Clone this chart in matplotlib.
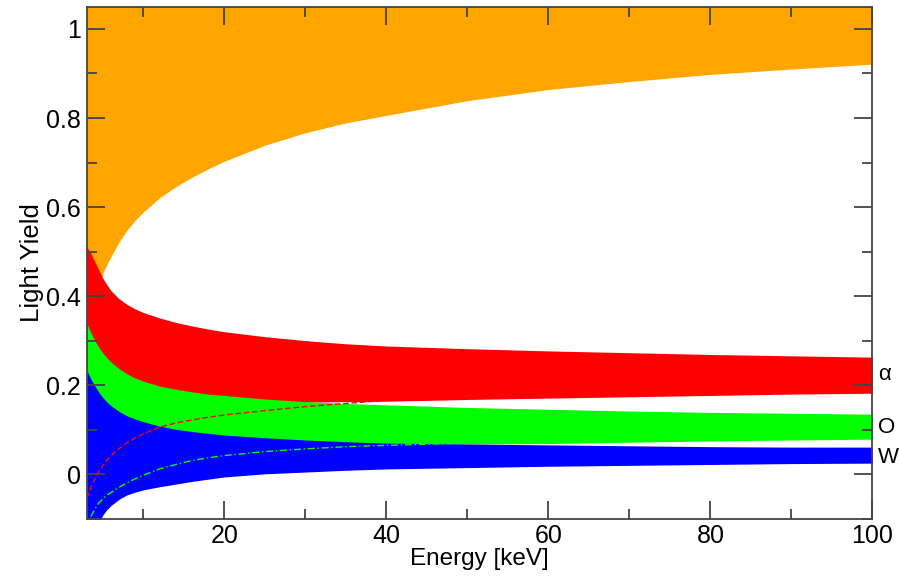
import numpy as np
import matplotlib
matplotlib.use('Agg')
import matplotlib.pyplot as plt
from matplotlib.ticker import MultipleLocator
import matplotlib.transforms as mtransforms

plt.rcParams['font.family'] = ['Liberation Sans', 'DejaVu Sans']

# ── band edges (light yield) on a common energy grid ──
energy = [3, 3.5, 4, 4.5, 5, 5.5, 6, 7, 8, 9, 10, 12, 14, 16, 18, 20,
          25, 30, 35, 40, 50, 60, 70, 80, 90, 100]

e_low = [0.30, 0.35, 0.39, 0.425, 0.452, 0.472, 0.489, 0.522, 0.549, 0.571, 0.589, 0.621, 0.646,
         0.667, 0.686, 0.703, 0.739, 0.767, 0.789, 0.806, 0.839, 0.864, 0.882, 0.898, 0.910, 0.921]

alpha_up = [0.511, 0.496, 0.477, 0.458, 0.440, 0.425, 0.412, 0.394, 0.381, 0.371, 0.363, 0.351, 0.341,
            0.333, 0.326, 0.320, 0.309, 0.300, 0.293, 0.288, 0.282, 0.277, 0.273, 0.269, 0.266, 0.263]
alpha_low = [0.25, 0.24, 0.23, 0.22, 0.21, 0.205, 0.20, 0.19, 0.183, 0.178, 0.175, 0.170, 0.167,
             0.165, 0.164, 0.163, 0.162, 0.162, 0.163, 0.164, 0.168, 0.171, 0.174, 0.177, 0.180, 0.182]

o_up = [0.339, 0.318, 0.300, 0.285, 0.272, 0.261, 0.252, 0.237, 0.225, 0.216, 0.209, 0.198, 0.191,
        0.185, 0.180, 0.177, 0.169, 0.163, 0.159, 0.156, 0.150, 0.146, 0.142, 0.139, 0.137, 0.135]
o_low = [0.12, 0.115, 0.11, 0.105, 0.10, 0.095, 0.09, 0.085, 0.08, 0.077, 0.075, 0.072, 0.070,
         0.069, 0.068, 0.067, 0.066, 0.066, 0.066, 0.067, 0.068, 0.069, 0.072, 0.075, 0.077, 0.079]

w_up = [0.234, 0.214, 0.198, 0.184, 0.172, 0.162, 0.154, 0.141, 0.131, 0.124, 0.118, 0.108, 0.101,
        0.096, 0.092, 0.088, 0.082, 0.077, 0.073, 0.070, 0.068, 0.066, 0.064, 0.062, 0.061, 0.061]
w_low = [-0.20, -0.165, -0.135, -0.110, -0.091, -0.079, -0.070, -0.056, -0.046, -0.040, -0.035,
         -0.028, -0.022, -0.016, -0.011, -0.006, 0.001, 0.005, 0.009, 0.012, 0.015, 0.018,
         0.020, 0.022, 0.024, 0.025]

# expected-value curves drawn over the bands
curve_red = [-0.054, -0.030, -0.010, 0.006, 0.020, 0.032, 0.042, 0.058, 0.071, 0.082, 0.091, 0.106,
             0.115, 0.122, 0.128, 0.133, 0.143, 0.152, 0.159, 0.166, 0.185, 0.195, 0.200, 0.205,
             0.210, 0.212]
curve_green = [-0.125, -0.095, -0.078, -0.064, -0.055, -0.047, -0.041, -0.029, -0.019, -0.010,
               -0.002, 0.012, 0.022, 0.031, 0.037, 0.042, 0.051, 0.057, 0.062, 0.065, 0.070,
               0.074, 0.077, 0.080, 0.082, 0.084]

band_labels = ['\u03b1', 'O', 'W']
label_pos = [0.225, 0.106, 0.037]

E = np.array(energy)
YTOP = 1.05

fig = plt.figure(figsize=(8.99, 5.76), dpi=100)
ax = fig.add_axes([0.0965, 0.0993, 0.8739, 0.8891])

ax.fill_between(E, e_low, YTOP + 0.5, color='#ffa500', lw=0)
ax.fill_between(E, alpha_low, alpha_up, color='#ff0000', lw=0)
ax.fill_between(E, o_low, o_up, color='#00ff00', lw=0)
ax.fill_between(E, w_low, w_up, color='#0000ff', lw=0)

ax.plot(E, curve_red, color='#ff0000', lw=1.0, ls=(0, (4, 2)))
ax.plot(E, curve_green, color='#00ff00', lw=1.0, ls=(0, (5, 2, 1, 2)))

ax.set_xlim(3, 100)
ax.set_ylim(-0.1, YTOP)

ax.xaxis.set_major_locator(MultipleLocator(20))
ax.xaxis.set_minor_locator(MultipleLocator(10))
ax.yaxis.set_minor_locator(MultipleLocator(0.1))
ax.set_yticks([0, 0.2, 0.4, 0.6, 0.8, 1.0])
ax.set_yticklabels(['0', '0.2', '0.4', '0.6', '0.8', '1'])

ax.tick_params(which='both', direction='in', top=True, right=True,
               color='#444444', width=1.3, labelsize=18)
ax.tick_params(axis='x', pad=4)
ax.tick_params(axis='y', pad=4)
ax.tick_params(which='major', length=13)
ax.tick_params(which='minor', length=7)
for sp in ax.spines.values():
    sp.set_color('#444444')
    sp.set_linewidth(1.3)
    sp.set_zorder(5)

ax.set_xlabel('Energy [keV]', fontsize=17.5, labelpad=0)
ax.set_ylabel('Light Yield', fontsize=18.5, labelpad=2)

trans = mtransforms.blended_transform_factory(ax.transAxes, ax.transData)
for lab, yp in zip(band_labels, label_pos):
    ax.text(1.007, yp, lab, transform=trans, fontsize=16, va='center', ha='left')

fig.savefig('out.png', dpi=100)
